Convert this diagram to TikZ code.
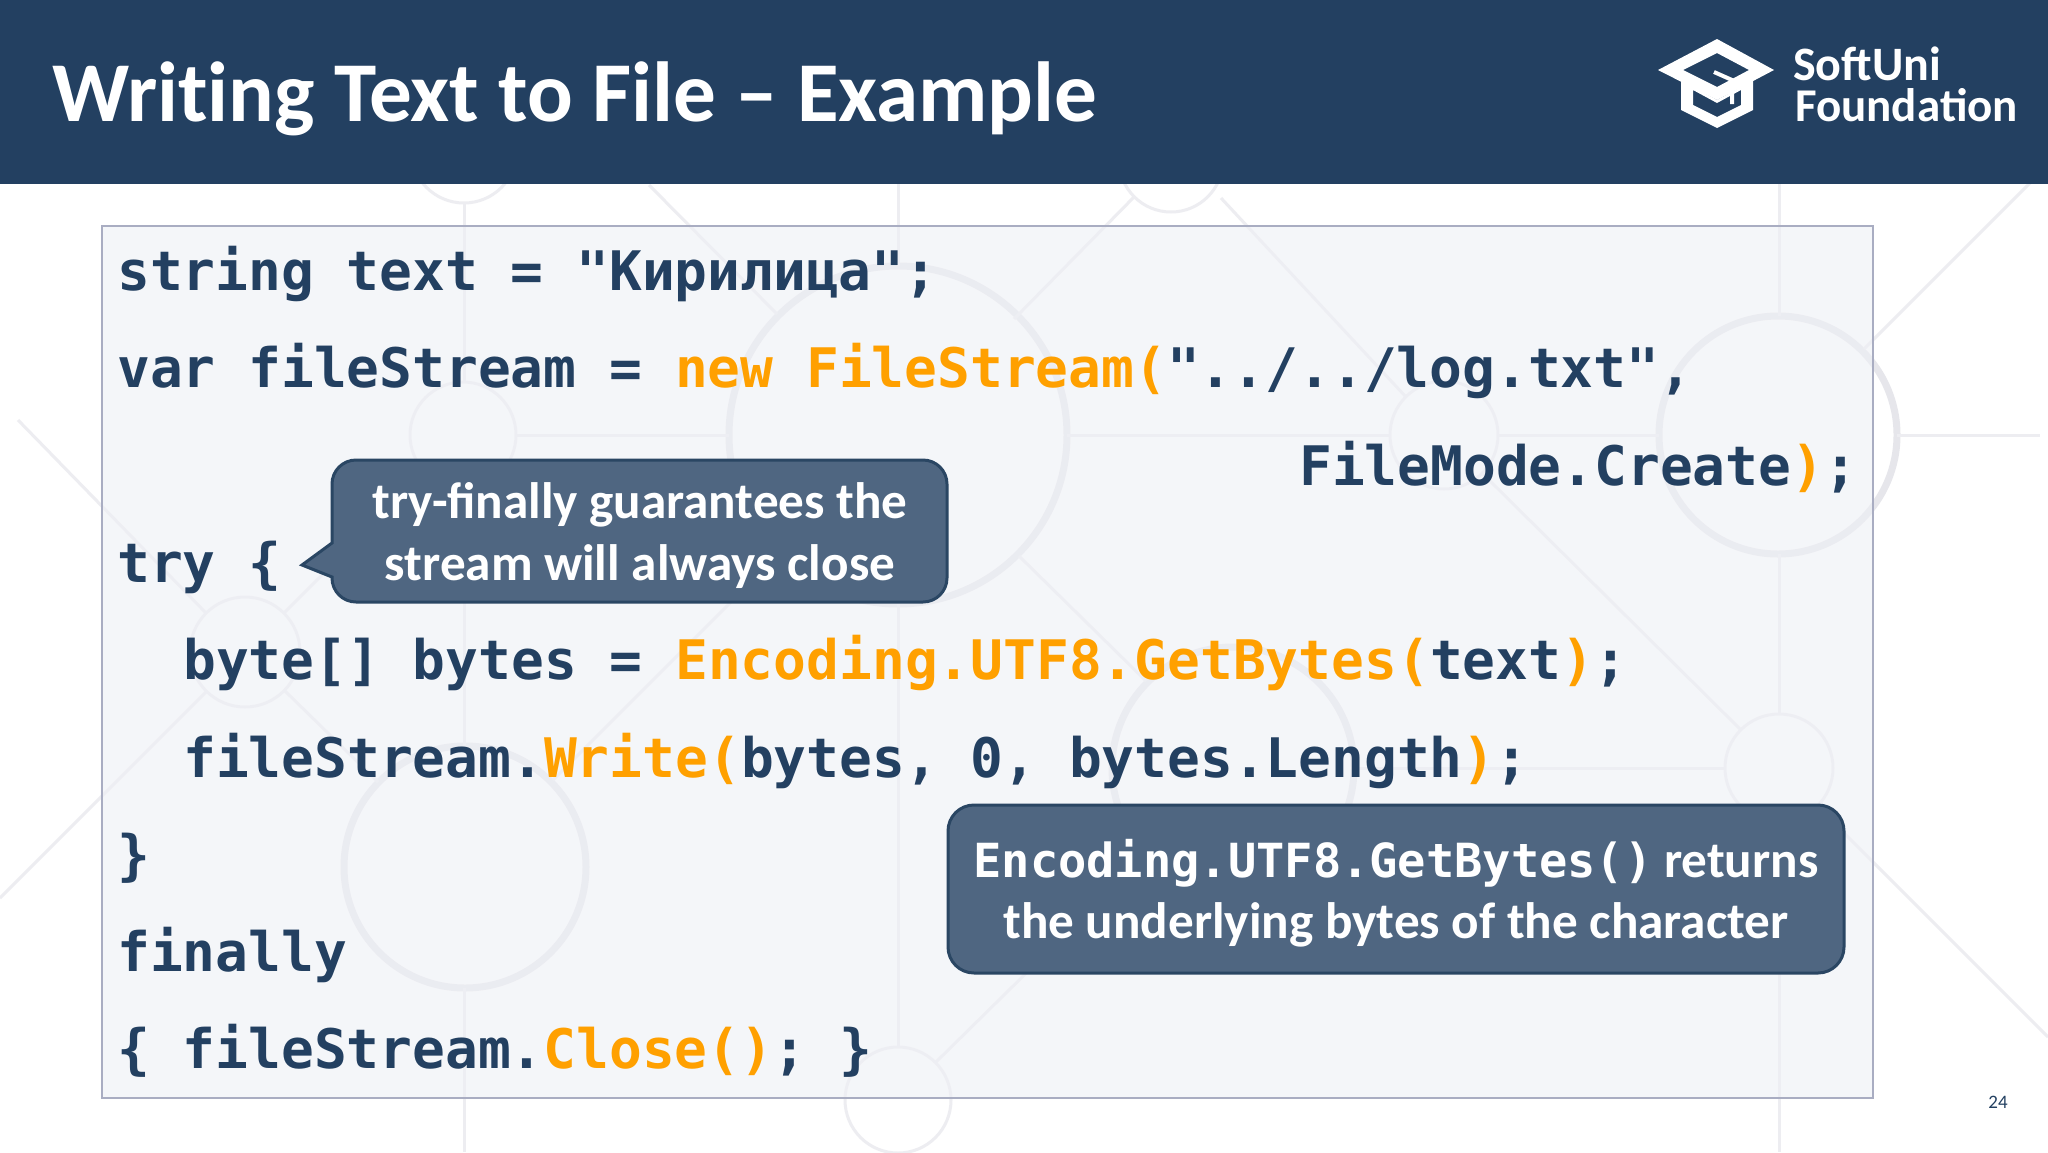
\documentclass[tikz,border=0pt]{standalone}
\usepackage{fontspec}
\setmainfont{Carlito}
\setmonofont{DejaVu Sans Mono}
\definecolor{navy}{HTML}{234061}
\definecolor{codeorange}{HTML}{FFA000}
\definecolor{notefill}{HTML}{4F6681}
\definecolor{noteline}{HTML}{2A4663}
\definecolor{bgline}{HTML}{E6E6EB}
\definecolor{bgthin}{HTML}{EDEDF1}
\definecolor{panelfill}{HTML}{EEF0F5}
\definecolor{panelline}{HTML}{A9ADC2}
\newcommand{\kw}[1]{\textcolor{codeorange}{#1}}
\tikzset{
  codeline/.style={anchor=base west,inner sep=0pt,text=navy,font=\ttfamily\bfseries\fontsize{54.5}{60}\selectfont},
  notetext/.style={anchor=base,inner sep=0pt,text=white,font=\bfseries\fontsize{51.2}{54}\selectfont},
  notebox/.style={fill=notefill,draw=noteline,line width=3pt},
  bigring/.style={draw=bgline,line width=7pt},
  smallring/.style={draw=bgthin,line width=3pt},
  bgwire/.style={draw=bgthin,line width=3pt}
}
\begin{document}
\begin{tikzpicture}[x=1pt,y=-1pt]
    \path[use as bounding box,fill=white] (0,0) rectangle (2048,1152);

    % Background network.
    \foreach \cx/\cy/\rad in {898/435/169,465/867/121,1233/768/121,1778/435/119}
        \draw[bigring] (\cx,\cy) circle (\rad);
    \foreach \cx/\cy/\rad in {464/150/53,1171/160/52,463/435/53,1444/435/54,245/652/55,1779/768/54,898/1100/53}
        \draw[smallring] (\cx,\cy) circle (\rad);
    \foreach \ax/\ay/\bx/\by in {464/203/464/382,464/488/464/746,464/988/464/1152,
        898/184/898/266,898/604/898/1047,1779/184/1779/316,1779/554/1779/714,1779/822/1779/1152,
        516/435/729/435,1067/435/1390/435,1498/435/1659/435,1897/435/2040/435,1354/768/1725/768,
        18/420/206/613,284/690/378/782,0/898/207/691,284/613/425/472,
        649/185/777/314,553/780/777/556,1014/319/1134/197,1221/198/1406/397,
        1482/473/1741/730,1864/349/2030/183,1817/806/2048/1037,1019/556/1146/681,
        936/1062/1146/855}
        \draw[bgwire] (\ax,\ay) -- (\bx,\by);

    % Panel with the code.
    \draw[fill=panelfill,fill opacity=0.6,draw=panelline,line width=2pt] (102,226) rectangle (1873,1098);
    \node[codeline] (line1) at (117,290) {string text = "Кирилица";};
    \node[codeline] (line2) at (117,387) {var fileStream = \kw{new FileStream(}"../../log.txt",};
    \node[codeline] (line3) at (1299,485) {FileMode.Create\kw{)};};
    \node[codeline] (line4) at (117,582) {try \{};
    \node[codeline] (line5) at (183,679) {byte[] bytes = \kw{Encoding.UTF8.GetBytes(}text\kw{)};};
    \node[codeline] (line6) at (183,777) {fileStream.\kw{Write(}bytes, 0, bytes.Length\kw{)};};
    \node[codeline] (line7) at (117,874) {\}};
    \node[codeline] (line8) at (117,971) {finally};
    \node[codeline] (line9) at (117,1068) {\{ fileStream.\kw{Close()}; \}};

    % Notes.
    \draw[notebox,rounded corners=24pt] (332,543) -- (332,460) -- (947,460) -- (947,602) -- (332,602)
        [sharp corners] -- (332,577) -- (302,565) -- cycle;
    \node[notetext] (tryA) at (640,518) {try-finally guarantees the};
    \node[notetext] (tryB) at (640,580) {stream will always close};
    \draw[notebox,rounded corners=26pt] (948,805) rectangle (1844,973);
    \node[notetext] (bytesA) at (1396,877) {{\ttfamily\fontsize{47}{50}\selectfont Encoding.UTF8.GetBytes()} returns};
    \node[notetext] (bytesB) at (1396,938) {the underlying bytes of the character};

    % Header.
    \fill[navy] (0,0) rectangle (2048,184);
    \node[anchor=base west,inner sep=0pt,text=white,font=\bfseries\fontsize{85.2}{88}\selectfont\addfontfeature{Ligatures=NoCommon}] (title) at (52,121) {Writing Text to File – Example};

    % Logo.
    \fill[white,even odd rule] (1658,70) -- (1717,39) -- (1774,70) -- (1717,100) -- cycle
        (1683,70) -- (1717,53) -- (1749,70) -- (1717,87) -- cycle;
    \fill[white,even odd rule] (1681,80) -- (1681,110) -- (1717,128) -- (1753,110) -- (1753,80) -- (1717,100) -- cycle
        (1693,90) -- (1693,105) -- (1717,117) -- (1741,105) -- (1741,90) -- (1717,103) -- cycle;
    \draw[white,line width=4pt] (1714,72) -- (1732,80) -- (1732,104);
    \node[anchor=base west,inner sep=0pt,text=white,font=\bfseries\fontsize{48}{48}\selectfont] (brandA) at (1793,80) {SoftUni};
    \node[anchor=base west,inner sep=0pt,text=white,font=\bfseries\fontsize{47}{47}\selectfont] (brandB) at (1795,121) {Foundation};

    \node[anchor=base,inner sep=0pt,text=navy,font=\fontsize{19}{22}\selectfont] (pagenum) at (1998,1108) {24};
\end{tikzpicture}
\end{document}
